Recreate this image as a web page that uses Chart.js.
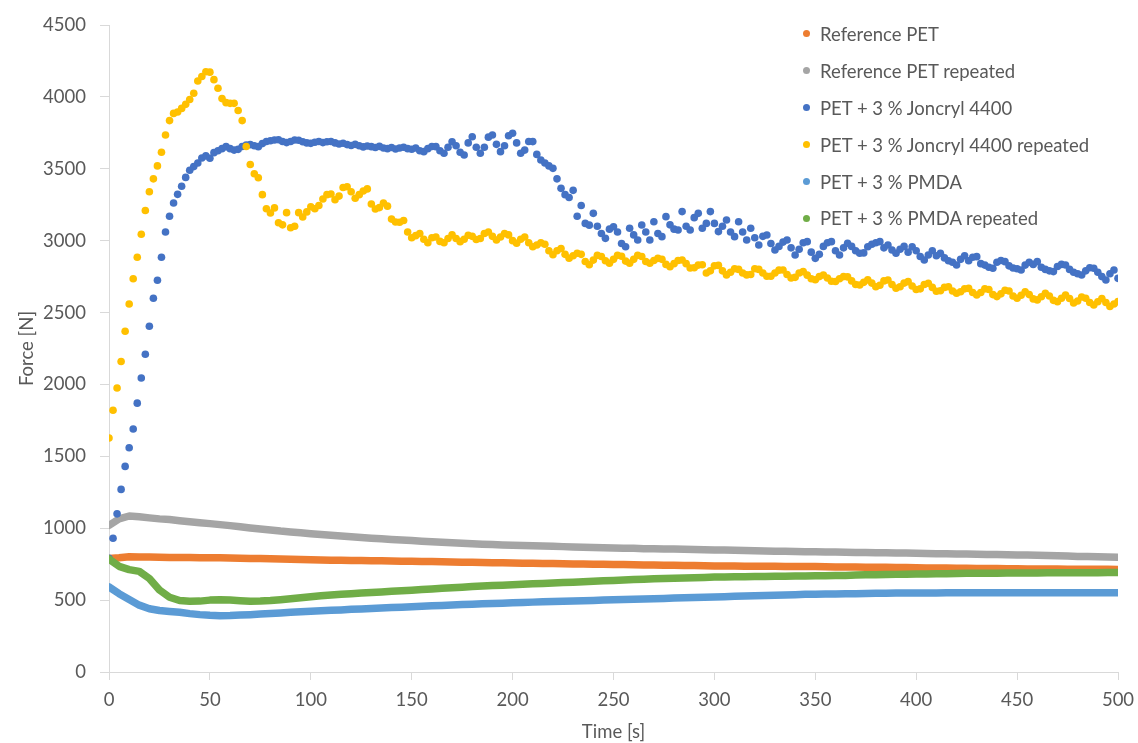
<!DOCTYPE html>
<html>
<head>
<meta charset="utf-8">
<script src="https://cdn.jsdelivr.net/npm/chart.js@4.4.1/dist/chart.umd.min.js"></script>
<style>
    html, body { margin: 0; padding: 0; background: #ffffff; }
    #wrap { position: relative; width: 1138px; height: 743px; }
    #legend {
        position: absolute; left: 800px; top: 15.5px;
        font-family: Lato, sans-serif; font-size: 18.5px; color: #595959;
    }
    .item { height: 36.9px; display: flex; align-items: center; white-space: nowrap; }
    .dot { width: 7px; height: 7px; border-radius: 50%; margin-left: 3px; margin-right: 10px; }
</style>
</head>
<body>
<div id="wrap">
    <canvas id="forceChart"></canvas>
    <div id="legend"></div>
</div>
<script>
// sampling interval of the dotted runs and of the smooth runs [s]
const FAST_STEP = 2;
const SLOW_STEP = 5;

const X_TICKS = [0, 50, 100, 150, 200, 250, 300, 350, 400, 450, 500];
const Y_TICKS = [0, 500, 1000, 1500, 2000, 2500, 3000, 3500, 4000, 4500];

// Force [N], one value per SLOW_STEP
const refPet = [
    790, 795, 802, 800, 800, 798, 797, 797, 796, 795,
    795, 794, 793, 792, 790, 789, 787, 786, 784, 782,
    780, 779, 778, 777, 776, 775, 774, 773, 772, 771,
    770, 769, 768, 767, 765, 764, 763, 762, 760, 759,
    758, 757, 756, 755, 754, 753, 752, 751, 750, 749,
    748, 747, 746, 745, 744, 743, 742, 741, 740, 739,
    738, 737, 737, 736, 736, 735, 735, 734, 734, 733,
    733, 732, 731, 731, 730, 729, 728, 728, 727, 726,
    725, 724, 724, 723, 722, 721, 720, 720, 719, 718,
    718, 717, 717, 716, 716, 715, 715, 714, 714, 714,
    713
];
const refPetRepeated = [
    1020, 1065, 1085, 1080, 1072, 1065, 1060, 1052, 1045, 1038,
    1032, 1025, 1018, 1010, 1002, 995, 988, 980, 974, 968,
    962, 956, 951, 946, 941, 936, 931, 927, 922, 918,
    914, 910, 906, 902, 899, 895, 892, 889, 886, 884,
    882, 880, 878, 876, 874, 872, 870, 868, 866, 864,
    862, 861, 860, 858, 857, 856, 855, 853, 852, 850,
    849, 848, 846, 845, 843, 842, 840, 839, 838, 837,
    836, 835, 834, 833, 832, 831, 830, 829, 828, 827,
    826, 825, 823, 822, 821, 820, 819, 818, 817, 815,
    814, 813, 812, 810, 808, 806, 804, 803, 801, 800,
    798
];
const pmda = [
    592, 545, 505, 465, 440, 428, 421, 415, 406, 399,
    394, 392, 393, 396, 399, 403, 407, 411, 415, 419,
    423, 426, 429, 432, 436, 439, 442, 445, 448, 451,
    454, 457, 460, 463, 466, 469, 472, 474, 477, 479,
    481, 483, 486, 488, 490, 492, 494, 496, 498, 500,
    502, 504, 506, 508, 510, 512, 514, 516, 518, 520,
    522, 524, 526, 528, 530, 532, 534, 536, 538, 540,
    541, 542, 543, 544, 545, 546, 547, 548, 549, 549,
    550, 550, 550, 551, 551, 551, 551, 551, 551, 551,
    551, 551, 551, 551, 551, 551, 551, 551, 551, 551,
    551
];
const pmdaRepeated = [
    786, 735, 712, 700, 650, 570, 520, 497, 492, 493,
    500, 503, 500, 496, 492, 493, 497, 503, 510, 517,
    524, 530, 535, 540, 545, 549, 553, 557, 561, 565,
    569, 573, 578, 582, 586, 590, 594, 598, 601, 604,
    607, 610, 613, 616, 619, 622, 625, 628, 631, 634,
    637, 640, 643, 645, 648, 650, 652, 654, 656, 658,
    660, 661, 662, 663, 664, 665, 666, 666, 667, 668,
    669, 670, 671, 672, 674, 676, 677, 678, 679, 680,
    681, 682, 683, 684, 685, 686, 686, 687, 687, 688,
    688, 689, 689, 690, 690, 690, 691, 691, 691, 692,
    692
];

// Force [N], one value per FAST_STEP
const joncryl = [
    791, 930, 1100, 1270, 1430, 1560, 1690, 1870, 2045, 2210,
    2405, 2600, 2725, 2885, 3060, 3170, 3262, 3322, 3378, 3440,
    3490, 3515, 3540, 3575, 3590, 3573, 3612, 3625, 3640, 3654,
    3640, 3630, 3635, 3655, 3665, 3668, 3660, 3654, 3675, 3690,
    3695, 3700, 3702, 3690, 3682, 3690, 3700, 3698, 3688, 3680,
    3677, 3685, 3690, 3682, 3688, 3690, 3680, 3672, 3678, 3668,
    3662, 3670, 3660, 3652, 3658, 3654, 3648, 3656, 3645, 3640,
    3648, 3638, 3645, 3650, 3640, 3636, 3645, 3625, 3619, 3640,
    3655, 3654, 3625, 3608, 3650, 3688, 3660, 3615, 3596, 3680,
    3723, 3650, 3608, 3650, 3720, 3735, 3670, 3619, 3660, 3730,
    3747, 3680, 3608, 3630, 3690, 3689, 3600, 3561, 3540, 3520,
    3503, 3430, 3364, 3320, 3300, 3350, 3170, 3245, 3120, 3108,
    3190, 3100, 3050, 3016, 3080, 3097, 3060, 2980, 2958, 3086,
    3040, 3005, 3109, 3060, 3005, 3132, 3050, 3028, 3167, 3110,
    3080, 3074, 3202, 3100, 3074, 3160, 3190, 3086, 3120, 3202,
    3120, 3063, 3100, 3144, 3060, 3028, 3132, 3060, 3005, 3086,
    3020, 2970, 3030, 3039, 2980, 2935, 2960, 2990, 3005, 2950,
    2900, 2940, 2985, 2993, 2920, 2877, 2905, 2960, 2985, 2993,
    2930, 2900, 2950, 2982, 2960, 2930, 2912, 2915, 2958, 2975,
    2985, 2993, 2950, 2970, 2935, 2912, 2940, 2960, 2920, 2958,
    2930, 2890, 2866, 2900, 2930, 2895, 2912, 2880, 2860, 2850,
    2831, 2870, 2895, 2860, 2885, 2889, 2840, 2830, 2815, 2808,
    2850, 2862, 2854, 2825, 2810, 2805, 2796, 2830, 2850, 2835,
    2854, 2815, 2800, 2790, 2785, 2820, 2835, 2831, 2800, 2780,
    2770, 2761, 2790, 2812, 2808, 2780, 2750, 2726, 2770, 2796,
    2738
];
const joncrylRepeated = [
    1627, 1820, 1975, 2160, 2370, 2560, 2735, 2885, 3045, 3210,
    3340, 3430, 3520, 3615, 3735, 3835, 3885, 3895, 3920, 3948,
    3982, 4025, 4110, 4142, 4175, 4172, 4120, 4060, 3988, 3960,
    3955, 3955, 3905, 3835, 3655, 3530, 3465, 3438, 3320, 3222,
    3192, 3228, 3125, 3110, 3195, 3090, 3100, 3195, 3165, 3200,
    3236, 3222, 3245, 3290, 3320, 3325, 3285, 3310, 3370, 3375,
    3340, 3295, 3320, 3345, 3360, 3255, 3220, 3230, 3262, 3240,
    3150, 3130, 3128, 3140, 3060, 3020, 3035, 3050, 3010, 2985,
    3020, 3025, 2995, 2985, 3015, 3040, 3015, 2993, 3010, 3038,
    3030, 3008, 3015, 3050, 3060, 3030, 3005, 3025, 3050, 3040,
    3000, 2982, 3010, 3025, 2985, 2958, 2970, 2985, 2975, 2930,
    2902, 2930, 2945, 2905, 2878, 2895, 2912, 2905, 2855, 2832,
    2865, 2898, 2890, 2860, 2843, 2870, 2898, 2892, 2858, 2843,
    2870, 2898, 2890, 2855, 2843, 2862, 2877, 2870, 2835, 2819,
    2840, 2862, 2866, 2840, 2810, 2812, 2830, 2832, 2775, 2790,
    2825, 2828, 2790, 2762, 2780, 2805, 2800, 2775, 2762, 2765,
    2805, 2800, 2775, 2752, 2752, 2775, 2795, 2796, 2765, 2740,
    2745, 2775, 2785, 2760, 2735, 2728, 2750, 2761, 2740, 2718,
    2716, 2735, 2750, 2748, 2720, 2695, 2692, 2710, 2727, 2705,
    2680, 2690, 2720, 2726, 2695, 2669, 2680, 2705, 2715, 2685,
    2660, 2665, 2695, 2704, 2675, 2648, 2652, 2675, 2680, 2650,
    2634, 2645, 2665, 2668, 2640, 2622, 2640, 2665, 2660, 2625,
    2611, 2630, 2655, 2650, 2615, 2600, 2620, 2645, 2625, 2595,
    2588, 2610, 2634, 2615, 2585, 2576, 2600, 2622, 2598, 2566,
    2580, 2608, 2600, 2570, 2553, 2575, 2598, 2570, 2542, 2560,
    2576
];

const SERIES_DEFS = [
    { label: 'Reference PET', color: '#ed7d31', values: refPet, dotted: false },
    { label: 'Reference PET repeated', color: '#a5a5a5', values: refPetRepeated, dotted: false },
    { label: 'PET + 3 % Joncryl 4400', color: '#4472c4', values: joncryl, dotted: true },
    { label: 'PET + 3 % Joncryl 4400 repeated', color: '#ffc000', values: joncrylRepeated, dotted: true },
    { label: 'PET + 3 % PMDA', color: '#5b9bd5', values: pmda, dotted: false },
    { label: 'PET + 3 % PMDA repeated', color: '#70ad47', values: pmdaRepeated, dotted: false }
];

const TEXT_COLOR = '#595959';
const AXIS_COLOR = '#d9d9d9';

function buildDataset(def, index) {
    const step = def.dotted ? FAST_STEP : SLOW_STEP;
    const base = {
        label: def.label,
        data: def.values.map((y, k) => ({ x: k * step, y })),
        // later series sit on top, like the original spreadsheet chart
        order: SERIES_DEFS.length - index,
        borderColor: def.color,
        backgroundColor: def.color,
        pointBackgroundColor: def.color
    };
    if (def.dotted) {
        return Object.assign(base, {
            showLine: false,
            pointRadius: 3.8,
            pointBorderWidth: 0,
            pointHoverRadius: 3.8
        });
    }
    return Object.assign(base, {
        showLine: true,
        borderWidth: 7.5,
        borderCapStyle: 'round',
        borderJoinStyle: 'round',
        tension: 0,
        pointRadius: 0,
        pointHoverRadius: 0
    });
}

function renderLegend() {
    const box = document.getElementById('legend');
    box.innerHTML = SERIES_DEFS.map(def =>
        `<div class="item"><span class="dot" style="background:${def.color}"></span>${def.label}</div>`
    ).join('');
}

Chart.defaults.font.family = 'Lato, sans-serif';
Chart.defaults.font.size = 18.5;
Chart.defaults.color = TEXT_COLOR;

new Chart(document.getElementById('forceChart'), {
    type: 'scatter',
    data: { datasets: SERIES_DEFS.map(buildDataset) },
    options: {
        responsive: true,
        maintainAspectRatio: false,
        animation: false,
        layout: { padding: { left: 0, right: 20, top: 25, bottom: 0 } },
        plugins: {
            legend: { display: false },
            tooltip: { enabled: false }
        },
        scales: {
            x: {
                type: 'linear',
                min: 0,
                max: 500,
                afterBuildTicks(scale) {
                    scale.ticks = X_TICKS.map(value => ({ value }));
                },
                afterFit(scale) {
                    scale.height = 71;
                    scale.paddingLeft = 0;
                    scale.paddingRight = 0;
                },
                ticks: {
                    padding: 9,
                    color: TEXT_COLOR,
                    maxRotation: 0,
                    callback: value => String(value)
                },
                grid: { drawOnChartArea: false, drawTicks: true, tickLength: 8, color: AXIS_COLOR },
                border: { color: AXIS_COLOR },
                title: { display: true, text: 'Time [s]', color: TEXT_COLOR, padding: { top: 0, bottom: 0 } }
            },
            y: {
                type: 'linear',
                min: 0,
                max: 4500,
                afterBuildTicks(scale) {
                    scale.ticks = Y_TICKS.map(value => ({ value }));
                },
                afterFit(scale) {
                    scale.width = 109;
                    scale.paddingTop = 0;
                    scale.paddingBottom = 0;
                },
                ticks: {
                    padding: 14,
                    color: TEXT_COLOR,
                    callback: value => String(value)
                },
                grid: { drawOnChartArea: false, drawTicks: true, tickLength: 9, color: AXIS_COLOR },
                border: { color: AXIS_COLOR },
                title: { display: true, text: 'Force [N]', color: TEXT_COLOR, padding: { top: 16, bottom: 0 } }
            }
        }
    }
});

renderLegend();
</script>
</body>
</html>
